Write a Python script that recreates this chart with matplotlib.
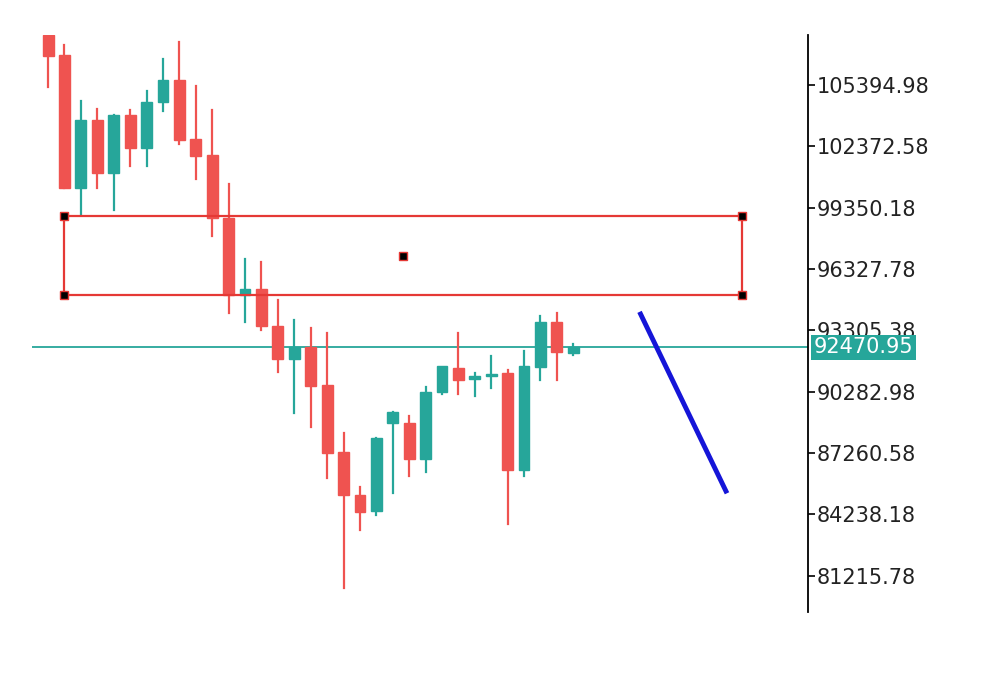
import matplotlib
matplotlib.use('Agg')
import matplotlib.pyplot as plt
from matplotlib.patches import Rectangle

# candles: open, high, low, close
opens = [107860, 106874, 100317, 103669, 101056, 103916, 102289, 104557, 105641, 102732,
         101944, 98838, 95041, 95337, 93513, 91886, 92478, 90604, 87301, 85180,
         84391, 88731, 88731, 86956, 90259, 91442, 90900, 91048, 91196, 86414,
         91491, 93710, 92182]
highs = [108107, 107367, 104606, 104212, 103916, 104162, 105099, 106677, 107515, 105346,
         104162, 100514, 96816, 96668, 94795, 93809, 93414, 93168, 88238, 85575,
         87992, 89273, 89076, 90506, 90751, 93168, 91196, 92034, 91344, 92280,
         94006, 94154, 92626]
lows = [105296, 100317, 98986, 100317, 99232, 101402, 101402, 104113, 102486, 100761,
        97950, 94154, 93710, 93316, 91245, 89224, 88534, 86019, 80596, 83455,
        84194, 85279, 86117, 86315, 90160, 90160, 90062, 90456, 83751, 86117,
        90851, 90851, 92083]
closes = [106825, 100317, 103669, 101056, 103916, 102289, 104557, 105641, 102683, 101895,
          98838, 95041, 95337, 93513, 91886, 92478, 90555, 87252, 85180, 84342,
          87992, 89273, 86956, 90259, 91541, 90851, 91048, 91146, 86414, 91541,
          93710, 92231, 92478]

tick_vals = [105394.98, 102372.58, 99350.18, 96327.78, 93305.38, 90282.98, 87260.58, 84238.18, 81215.78]
last_price = 92470.95
zone_low, zone_high = 95041, 98936
zone_x = [1, 42.3]
zone_mid = (21.6, 96989)
trend_x = [36.1, 41.3]
trend_y = [94105, 85378]

up_col = '#26a69a'
down_col = '#ef5350'

fig = plt.figure(figsize=(10, 6.87), dpi=100)
ax = fig.add_axes([0.032, 0.109, 0.776, 0.840])

for i, (o, h, l, c) in enumerate(zip(opens, highs, lows, closes)):
    col = up_col if c >= o else down_col
    ax.plot([i, i], [l, h], color=col, lw=1.6, zorder=2)
    bot = min(o, c)
    ax.add_patch(Rectangle((i - 0.33, bot), 0.66, max(abs(c - o), 60),
                           facecolor=col, edgecolor=col, zorder=3))

# zone rectangle
ax.add_patch(Rectangle((zone_x[0], zone_low), zone_x[1] - zone_x[0], zone_high - zone_low,
                       fill=False, edgecolor='#e53935', lw=1.6, zorder=4))
for px in zone_x:
    for py in (zone_low, zone_high):
        ax.plot(px, py, marker='s', ms=6, color='black', mec='#e53935', zorder=5)
ax.plot(*zone_mid, marker='s', ms=6, color='black', mec='#e53935', zorder=5)

ax.axhline(last_price, color=up_col, lw=1.3, zorder=1)
ax.plot(trend_x, trend_y, color='#1515d8', lw=3.5, zorder=4)

ax.set_xlim(-0.98, 46.3)
ax.set_ylim(79412, 107860)
for s in ['top', 'left', 'bottom']:
    ax.spines[s].set_visible(False)
ax.spines['right'].set_linewidth(1.3)
ax.set_xticks([])
ax.yaxis.tick_right()
ax.set_yticks(tick_vals)
ax.set_yticklabels([f"{v:.2f}" for v in tick_vals], fontsize=15, color='#222222')
ax.tick_params(axis='y', length=5, width=1.2, pad=1)

ax.text(1.007, last_price, f"{last_price:.2f}", transform=ax.get_yaxis_transform(),
        fontsize=15, color='white', va='center', ha='left', zorder=10, clip_on=False,
        bbox=dict(boxstyle='square,pad=0.12', facecolor=up_col, edgecolor='none'))

fig.savefig('out.png')
